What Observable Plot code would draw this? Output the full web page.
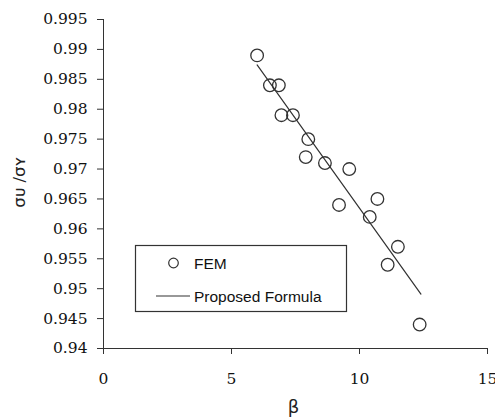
<!DOCTYPE html>
<html>
<head>
<meta charset="utf-8">
<script src="https://cdn.jsdelivr.net/npm/d3@7"></script>
<script src="https://cdn.jsdelivr.net/npm/@observablehq/plot@0.6"></script>
<style>
  html, body { margin: 0; padding: 0; background: #fff; }
  #wrap { position: relative; width: 495px; height: 419px; }
  #legend { position: absolute; left: 0; top: 0; pointer-events: none; }
</style>
</head>
<body>
<div id="wrap"></div>
<script>
// FEM results
const beta = [6.0, 6.5, 6.85, 6.95, 7.4, 8.0, 7.9, 8.65, 9.6, 9.2, 10.7, 10.4, 11.5, 11.1, 12.35];
const ratio = [0.989, 0.984, 0.984, 0.979, 0.979, 0.975, 0.972, 0.971, 0.970, 0.964, 0.965, 0.962, 0.957, 0.954, 0.944];
// Proposed formula (straight line)
const formulaBeta = [6.0, 12.4];
const formulaRatio = [0.9874, 0.9491];
// Ticks
const xTicks = [0, 5, 10, 15];
const xTickLabels = ["0", "5", "10", "15"];
const yTicks = [0.94, 0.945, 0.95, 0.955, 0.96, 0.965, 0.97, 0.975, 0.98, 0.985, 0.99, 0.995];
const yTickLabels = ["0.94", "0.945", "0.95", "0.955", "0.96", "0.965", "0.97", "0.975", "0.98", "0.985", "0.99", "0.995"];
const xLabel = "β";
const yLabel = "σᴜ /σʏ";
const legendLabels = ["FEM", "Proposed Formula"];

const fem = beta.map((b, i) => ({beta: b, ratio: ratio[i]}));
const formula = formulaBeta.map((b, i) => ({beta: b, ratio: formulaRatio[i]}));

const ink = "#333";
const tickFont = "'DejaVu Serif', 'Liberation Serif', serif";
const sans = "'DejaVu Sans', sans-serif";

const chart = Plot.plot({
  width: 495,
  height: 419,
  marginLeft: 103,
  marginRight: 8,
  marginTop: 19,
  marginBottom: 71,
  style: {background: "#fff", color: ink},
  x: {domain: [0, 15]},
  y: {domain: [0.94, 0.995]},
  marks: [
    Plot.axisY({ticks: yTicks, tickFormat: () => "", tickSize: 6, stroke: ink, label: null}),
    Plot.axisX({ticks: xTicks, tickFormat: () => "", tickSize: 6, stroke: ink, label: null}),
    Plot.text(yTicks, {x: 0, y: d => d, text: (d, i) => yTickLabels[i], textAnchor: "end", dx: -16,
      fontFamily: tickFont, fontSize: 15.5, fill: "#111"}),
    Plot.text(xTicks, {x: d => d, y: 0.94, text: (d, i) => xTickLabels[i], textAnchor: "middle", dy: 31,
      fontFamily: tickFont, fontSize: 15.5, fill: "#111"}),
    Plot.ruleX([0], {stroke: ink}),
    Plot.ruleY([0.94], {stroke: ink}),
    Plot.line(formula, {x: "beta", y: "ratio", stroke: ink, strokeWidth: 1.2}),
    Plot.dot(fem, {x: "beta", y: "ratio", r: 6.3, stroke: ink, strokeWidth: 1.3, fill: "none"}),
    Plot.text([xLabel], {frameAnchor: "bottom", textAnchor: "middle", lineAnchor: "middle", dx: -2, dy: 59,
      fontSize: 18, fontFamily: sans, fill: "#222"}),
    Plot.text([yLabel], {frameAnchor: "left", textAnchor: "middle", lineAnchor: "middle", dx: -84, dy: -2,
      rotate: -90, fontSize: 16.5, fontFamily: sans, fill: "#222"})
  ]
});

// make font choices win over any inherited stylesheet rule
d3.select(chart).selectAll("[font-family]").each(function () {
  this.style.fontFamily = this.getAttribute("font-family");
});

const wrap = document.getElementById("wrap");
wrap.appendChild(chart);

// Legend overlay
const ns = "http://www.w3.org/2000/svg";
const lg = document.createElementNS(ns, "svg");
lg.setAttribute("id", "legend");
lg.setAttribute("width", 495);
lg.setAttribute("height", 419);
const legendFont = "'Liberation Sans', Arial, sans-serif";
function el(tag, attrs, text) {
  const e = document.createElementNS(ns, tag);
  for (const k in attrs) e.setAttribute(k, attrs[k]);
  if (text) e.textContent = text;
  lg.appendChild(e);
  return e;
}
el("rect", {x: 135.5, y: 245.5, width: 211, height: 66, fill: "#fff", stroke: ink, "stroke-width": 1.2});
el("circle", {cx: 173.5, cy: 263, r: 4.8, fill: "none", stroke: ink, "stroke-width": 1.2});
el("text", {x: 194, y: 263, "dominant-baseline": "central", style: `font-family:${legendFont};font-size:15.5px`, fill: "#111"}, legendLabels[0]);
el("line", {x1: 156, x2: 190, y1: 296, y2: 296, stroke: ink, "stroke-width": 1.2});
el("text", {x: 194, y: 296, "dominant-baseline": "central", style: `font-family:${legendFont};font-size:15.5px`, fill: "#111"}, legendLabels[1]);
wrap.appendChild(lg);
</script>
</body>
</html>
